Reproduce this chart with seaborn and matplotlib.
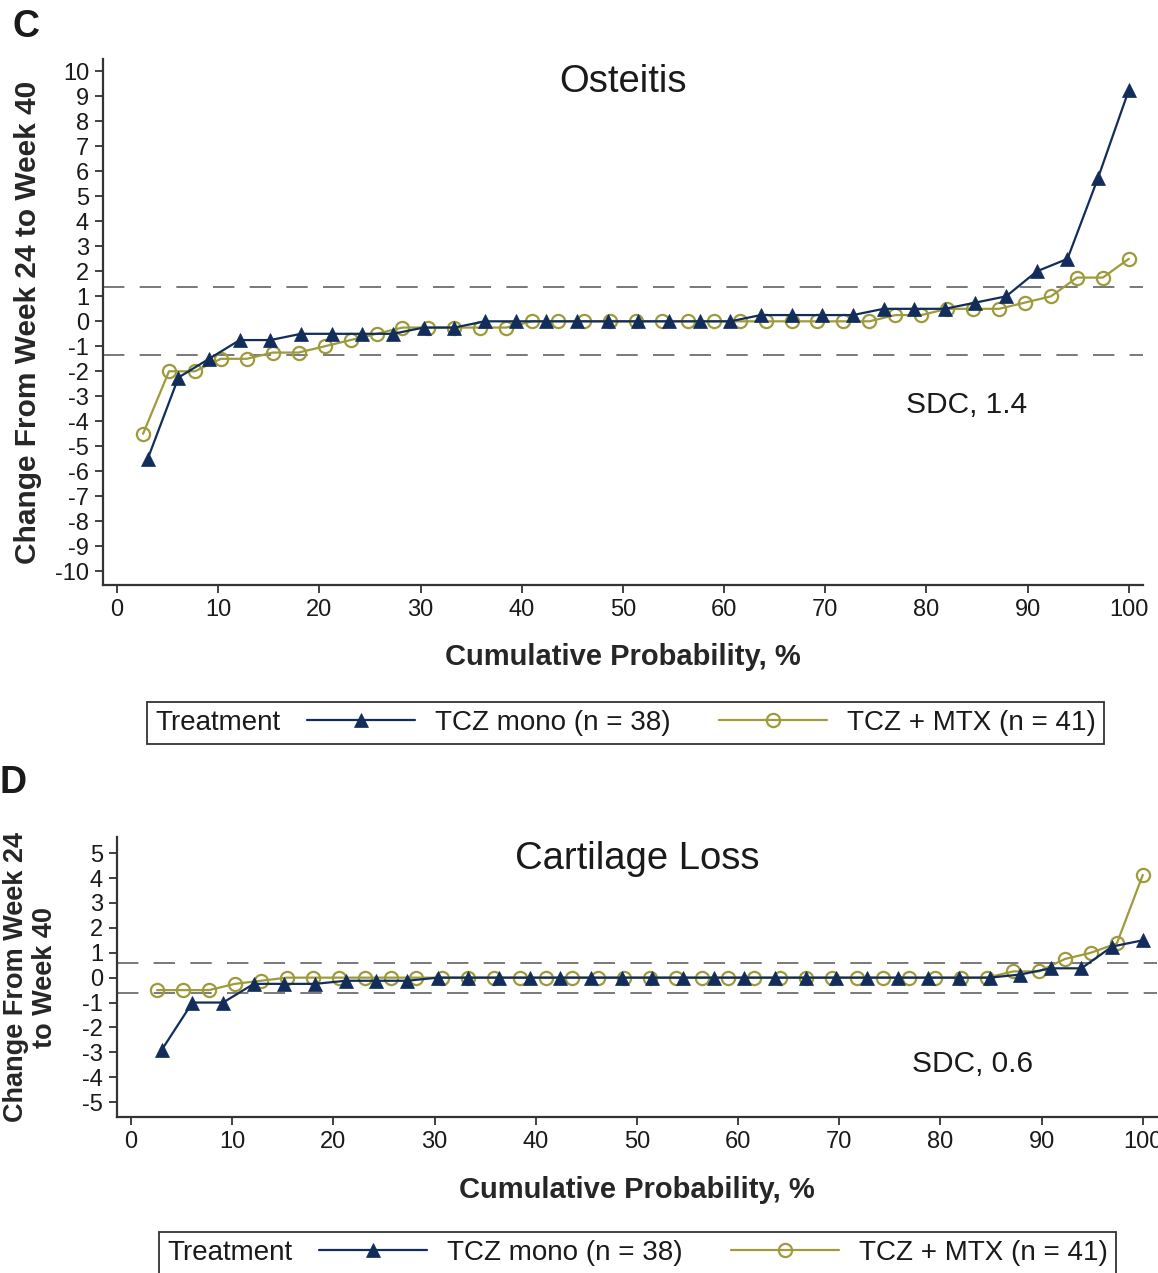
import numpy as np
import pandas as pd
import seaborn as sns
import matplotlib
matplotlib.use("Agg")
import matplotlib.pyplot as plt
from matplotlib.offsetbox import HPacker

# Panel C - Osteitis, change from week 24 to week 40 (sorted)
osteitis_mono = [-5.5, -2.25, -1.5, -0.75, -0.75, -0.5, -0.5, -0.5, -0.5, -0.25,
                 -0.25, 0, 0, 0, 0, 0, 0, 0, 0, 0,
                 0.25, 0.25, 0.25, 0.25, 0.5, 0.5, 0.5, 0.75, 1.0, 2.0,
                 2.5, 5.75, 9.25]
osteitis_mtx = [-4.5, -2.0, -2.0, -1.5, -1.5, -1.25, -1.25, -1.0, -0.75, -0.5,
                -0.25, -0.25, -0.25, -0.25, -0.25, 0, 0, 0, 0, 0,
                0, 0, 0, 0, 0, 0, 0, 0, 0, 0.25,
                0.25, 0.5, 0.5, 0.5, 0.75, 1.0, 1.75, 1.75, 2.5]
osteitis_sdc = 1.36

# Panel D - Cartilage loss
cartilage_mono = [-2.9, -1.0, -1.0, -0.25, -0.25, -0.25, -0.125, -0.125, -0.125, 0,
                  0, 0, 0, 0, 0, 0, 0, 0, 0, 0,
                  0, 0, 0, 0, 0, 0, 0, 0, 0.125, 0.375,
                  0.375, 1.25, 1.5]
cartilage_mtx = [-0.5, -0.5, -0.5, -0.25, -0.125, 0, 0, 0, 0, 0,
                 0, 0, 0, 0, 0, 0, 0, 0, 0, 0,
                 0, 0, 0, 0, 0, 0, 0, 0, 0, 0,
                 0, 0, 0, 0.25, 0.25, 0.75, 1.0, 1.375, 4.125]
cartilage_sdc = 0.6

label_mono = "TCZ mono (n = 38)"
label_mtx = "TCZ + MTX (n = 41)"

NAVY = "#122d5a"
OLIVE = "#9d9b3b"
GREY = "#333333"

sns.set_style("ticks")
plt.rcParams["font.family"] = ["Liberation Sans", "DejaVu Sans"]
plt.rcParams["axes.unicode_minus"] = False
plt.rcParams["text.color"] = "#1a1a1a"


def cum_frame(values):
    # cumulative probability: rank of each sorted value over the group size
    vals = np.sort(np.asarray(values, dtype=float))
    pct = np.arange(1, len(vals) + 1) / len(vals) * 100
    return pd.DataFrame({"pct": pct, "change": vals})


def panel(ax, mono, mtx, sdc, title, title_y, ylim, yticks, sdc_xy):
    sns.lineplot(data=cum_frame(mtx), x="pct", y="change", ax=ax, color=OLIVE,
                 lw=1.6, marker="o", markersize=9.5, markerfacecolor="none",
                 markeredgecolor=OLIVE, markeredgewidth=1.6, label=label_mtx,
                 legend=False, zorder=3)
    sns.lineplot(data=cum_frame(mono), x="pct", y="change", ax=ax, color=NAVY,
                 lw=1.6, marker="^", markersize=9.5, markerfacecolor=NAVY,
                 markeredgecolor=NAVY, markeredgewidth=0.5, label=label_mono,
                 legend=False, zorder=4)
    for v in (sdc, -sdc):
        ax.axhline(v, color="#555555", lw=1.1, dashes=(14, 10), zorder=1)

    ax.set_xlim(-1.4, 101.4)
    ax.set_xticks(range(0, 101, 10))
    ax.set_ylim(*ylim)
    ax.set_yticks(yticks)
    ax.tick_params(direction="out", length=6, width=1.3, labelsize=17,
                   pad=4, color=GREY, labelcolor="#1a1a1a")
    sns.despine(ax=ax)
    for s in ["left", "bottom"]:
        ax.spines[s].set_linewidth(1.6)
        ax.spines[s].set_color(GREY)

    ax.text(0.5, title_y, title, transform=ax.transAxes, ha="center",
            va="baseline", fontsize=27.5)
    ax.text(sdc_xy[0], sdc_xy[1], f"SDC, {sdc:.1f}", transform=ax.transAxes,
            ha="center", va="baseline", fontsize=21.5)
    ax.set_xlabel("Cumulative Probability, %", fontsize=21, fontweight="bold")


def add_legend(ax, fig, center):
    handles, labels = ax.get_legend_handles_labels()
    order = [labels.index(label_mono), labels.index(label_mtx)]
    leg = ax.legend([handles[i] for i in order], [labels[i] for i in order],
                    title="Treatment", ncol=2, loc="center",
                    bbox_to_anchor=center, bbox_transform=fig.transFigure,
                    fontsize=20, title_fontsize=20, handlelength=3.9,
                    handletextpad=0.7, columnspacing=1.75, borderpad=0.3,
                    frameon=True, fancybox=False, edgecolor=GREY, framealpha=1)
    leg.get_frame().set_linewidth(1.3)
    # put the title on the same row as the entries (Stata style)
    leg._legend_box.__class__ = HPacker
    leg._legend_box.sep = 19
    return leg


fig = plt.figure(figsize=(11.58, 12.73), dpi=100)
ax_c = fig.add_axes([0.0889, 0.5405, 0.8981, 0.4132])
ax_d = fig.add_axes([0.1010, 0.1225, 0.8981, 0.2200])

panel(ax_c, osteitis_mono, osteitis_mtx, osteitis_sdc, "Osteitis", 0.937,
      (-10.55, 10.5), range(-10, 11), (0.830, 0.327))
ax_c.set_ylabel("Change From Week 24 to Week 40", fontsize=21.5, fontweight="bold")
ax_c.yaxis.set_label_coords(-0.0721, 0.5)
ax_c.yaxis.label.set_va("center")
ax_c.xaxis.set_label_coords(0.5, -0.137)
ax_c.xaxis.label.set_va("center")
add_legend(ax_c, fig, (0.540, 0.4321))

panel(ax_d, cartilage_mono, cartilage_mtx, cartilage_sdc, "Cartilage Loss", 0.886,
      (-5.6, 5.65), range(-5, 6), (0.823, 0.161))
ax_d.set_ylabel("Change From Week 24\nto Week 40", fontsize=19.5, fontweight="bold",
                linespacing=1.15)
ax_d.yaxis.set_label_coords(-0.0827, 0.5)
ax_d.yaxis.label.set_va("center")
ax_d.xaxis.set_label_coords(0.5, -0.2607)
ax_d.xaxis.label.set_va("center")
add_legend(ax_d, fig, (0.5505, 0.0157))

fig.text(0.011, 0.971, "C", fontsize=27, fontweight="bold")
fig.text(0.0, 0.377, "D", fontsize=27, fontweight="bold")

fig.savefig("out.png", dpi=100)
